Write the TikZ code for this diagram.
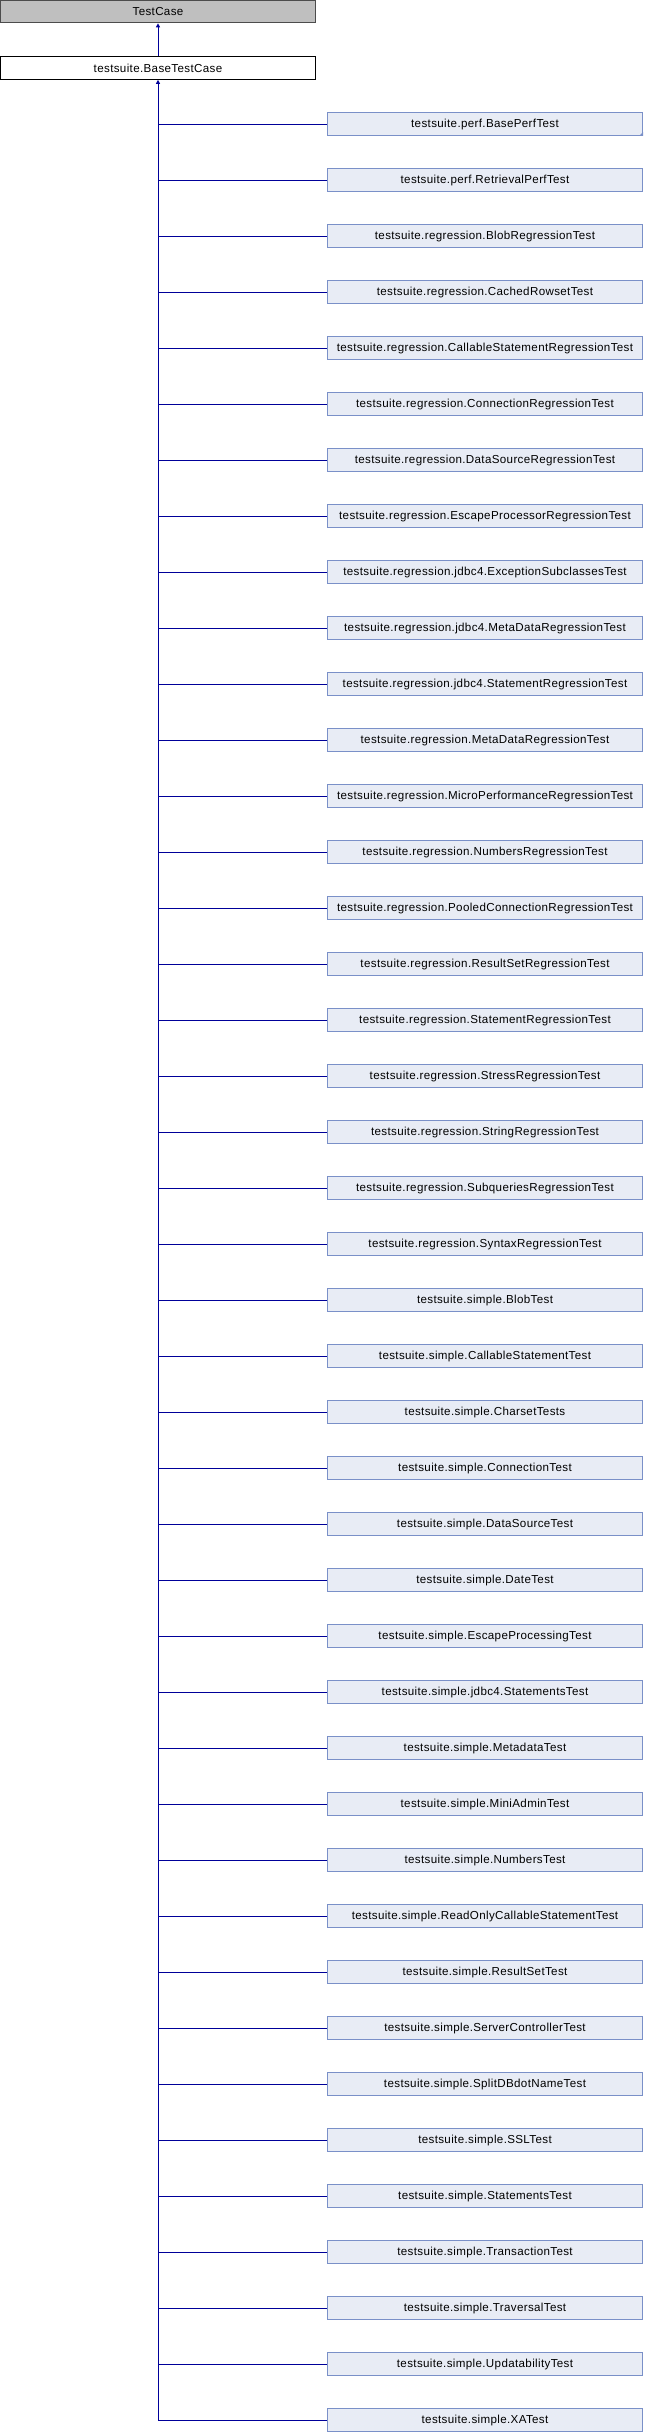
\documentclass[tikz,border=0pt]{standalone}
\usepackage{fontspec}
\setmainfont{Liberation Sans}[LetterSpace=3]
\usetikzlibrary{positioning,arrows.meta}

\definecolor{edgeBlue}{RGB}{0,0,153}
\definecolor{boxLine}{RGB}{122,144,200}
\definecolor{boxFill}{RGB}{232,236,245}
\definecolor{rootFill}{RGB}{191,191,191}

\tikzset{
  cls/.style={draw=boxLine,fill=boxFill,line width=0.75pt,minimum width=236.5pt,
    minimum height=17pt,inner sep=0pt,font=\fontsize{8.7}{10}\selectfont},
  baseCls/.style={cls,draw=black,fill=white},
  rootCls/.style={cls,draw=black!70,fill=rootFill},
  link/.style={draw=edgeBlue,line width=0.75pt}
}

\begin{document}
\begin{tikzpicture}[x=0.75pt,y=-0.75pt,>={Triangle[width=3pt,length=3pt]}]
\useasboundingbox (0,0) rectangle (644,2432);

% Coordinates are pixels of the original diagram, y grows downwards.
\node[rootCls] (testCase) at (158,11.5) {TestCase};
\node[baseCls] (baseTestCase) at (158,68) {testsuite.BaseTestCase};
\draw[link,->] (baseTestCase.north)--(testCase.south);

% Subclasses: one row every 56 px, first row at y=124.
\foreach \i/\lab in {1/testsuite.perf.BasePerfTest,
  2/testsuite.perf.RetrievalPerfTest,
  3/testsuite.regression.BlobRegressionTest,
  4/testsuite.regression.CachedRowsetTest,
  5/testsuite.regression.CallableStatementRegressionTest,
  6/testsuite.regression.ConnectionRegressionTest,
  7/testsuite.regression.DataSourceRegressionTest,
  8/testsuite.regression.EscapeProcessorRegressionTest,
  9/testsuite.regression.jdbc4.ExceptionSubclassesTest,
  10/testsuite.regression.jdbc4.MetaDataRegressionTest,
  11/testsuite.regression.jdbc4.StatementRegressionTest,
  12/testsuite.regression.MetaDataRegressionTest,
  13/testsuite.regression.MicroPerformanceRegressionTest,
  14/testsuite.regression.NumbersRegressionTest,
  15/testsuite.regression.PooledConnectionRegressionTest,
  16/testsuite.regression.ResultSetRegressionTest,
  17/testsuite.regression.StatementRegressionTest,
  18/testsuite.regression.StressRegressionTest,
  19/testsuite.regression.StringRegressionTest,
  20/testsuite.regression.SubqueriesRegressionTest,
  21/testsuite.regression.SyntaxRegressionTest,
  22/testsuite.simple.BlobTest,
  23/testsuite.simple.CallableStatementTest,
  24/testsuite.simple.CharsetTests,
  25/testsuite.simple.ConnectionTest,
  26/testsuite.simple.DataSourceTest,
  27/testsuite.simple.DateTest,
  28/testsuite.simple.EscapeProcessingTest,
  29/testsuite.simple.jdbc4.StatementsTest,
  30/testsuite.simple.MetadataTest,
  31/testsuite.simple.MiniAdminTest,
  32/testsuite.simple.NumbersTest,
  33/testsuite.simple.ReadOnlyCallableStatementTest,
  34/testsuite.simple.ResultSetTest,
  35/testsuite.simple.ServerControllerTest,
  36/testsuite.simple.SplitDBdotNameTest,
  37/testsuite.simple.SSLTest,
  38/testsuite.simple.StatementsTest,
  39/testsuite.simple.TransactionTest,
  40/testsuite.simple.TraversalTest,
  41/testsuite.simple.UpdatabilityTest,
  42/testsuite.simple.XATest}{
  \node[cls] (sub\i) at (485,{124+56*(\i-1)}) {\lab};
  \draw[link] (baseTestCase.south |- sub\i.west)--(sub\i.west);
}

% Shared trunk up to the base class.
\draw[link,->] (baseTestCase.south |- sub42.west)--(baseTestCase.south);

% BasePerfTest has further subclasses: corner mark.
\fill[boxLine] (sub1.south east)--++(-4,0)--++(4,-4)--cycle;
\end{tikzpicture}
\end{document}
